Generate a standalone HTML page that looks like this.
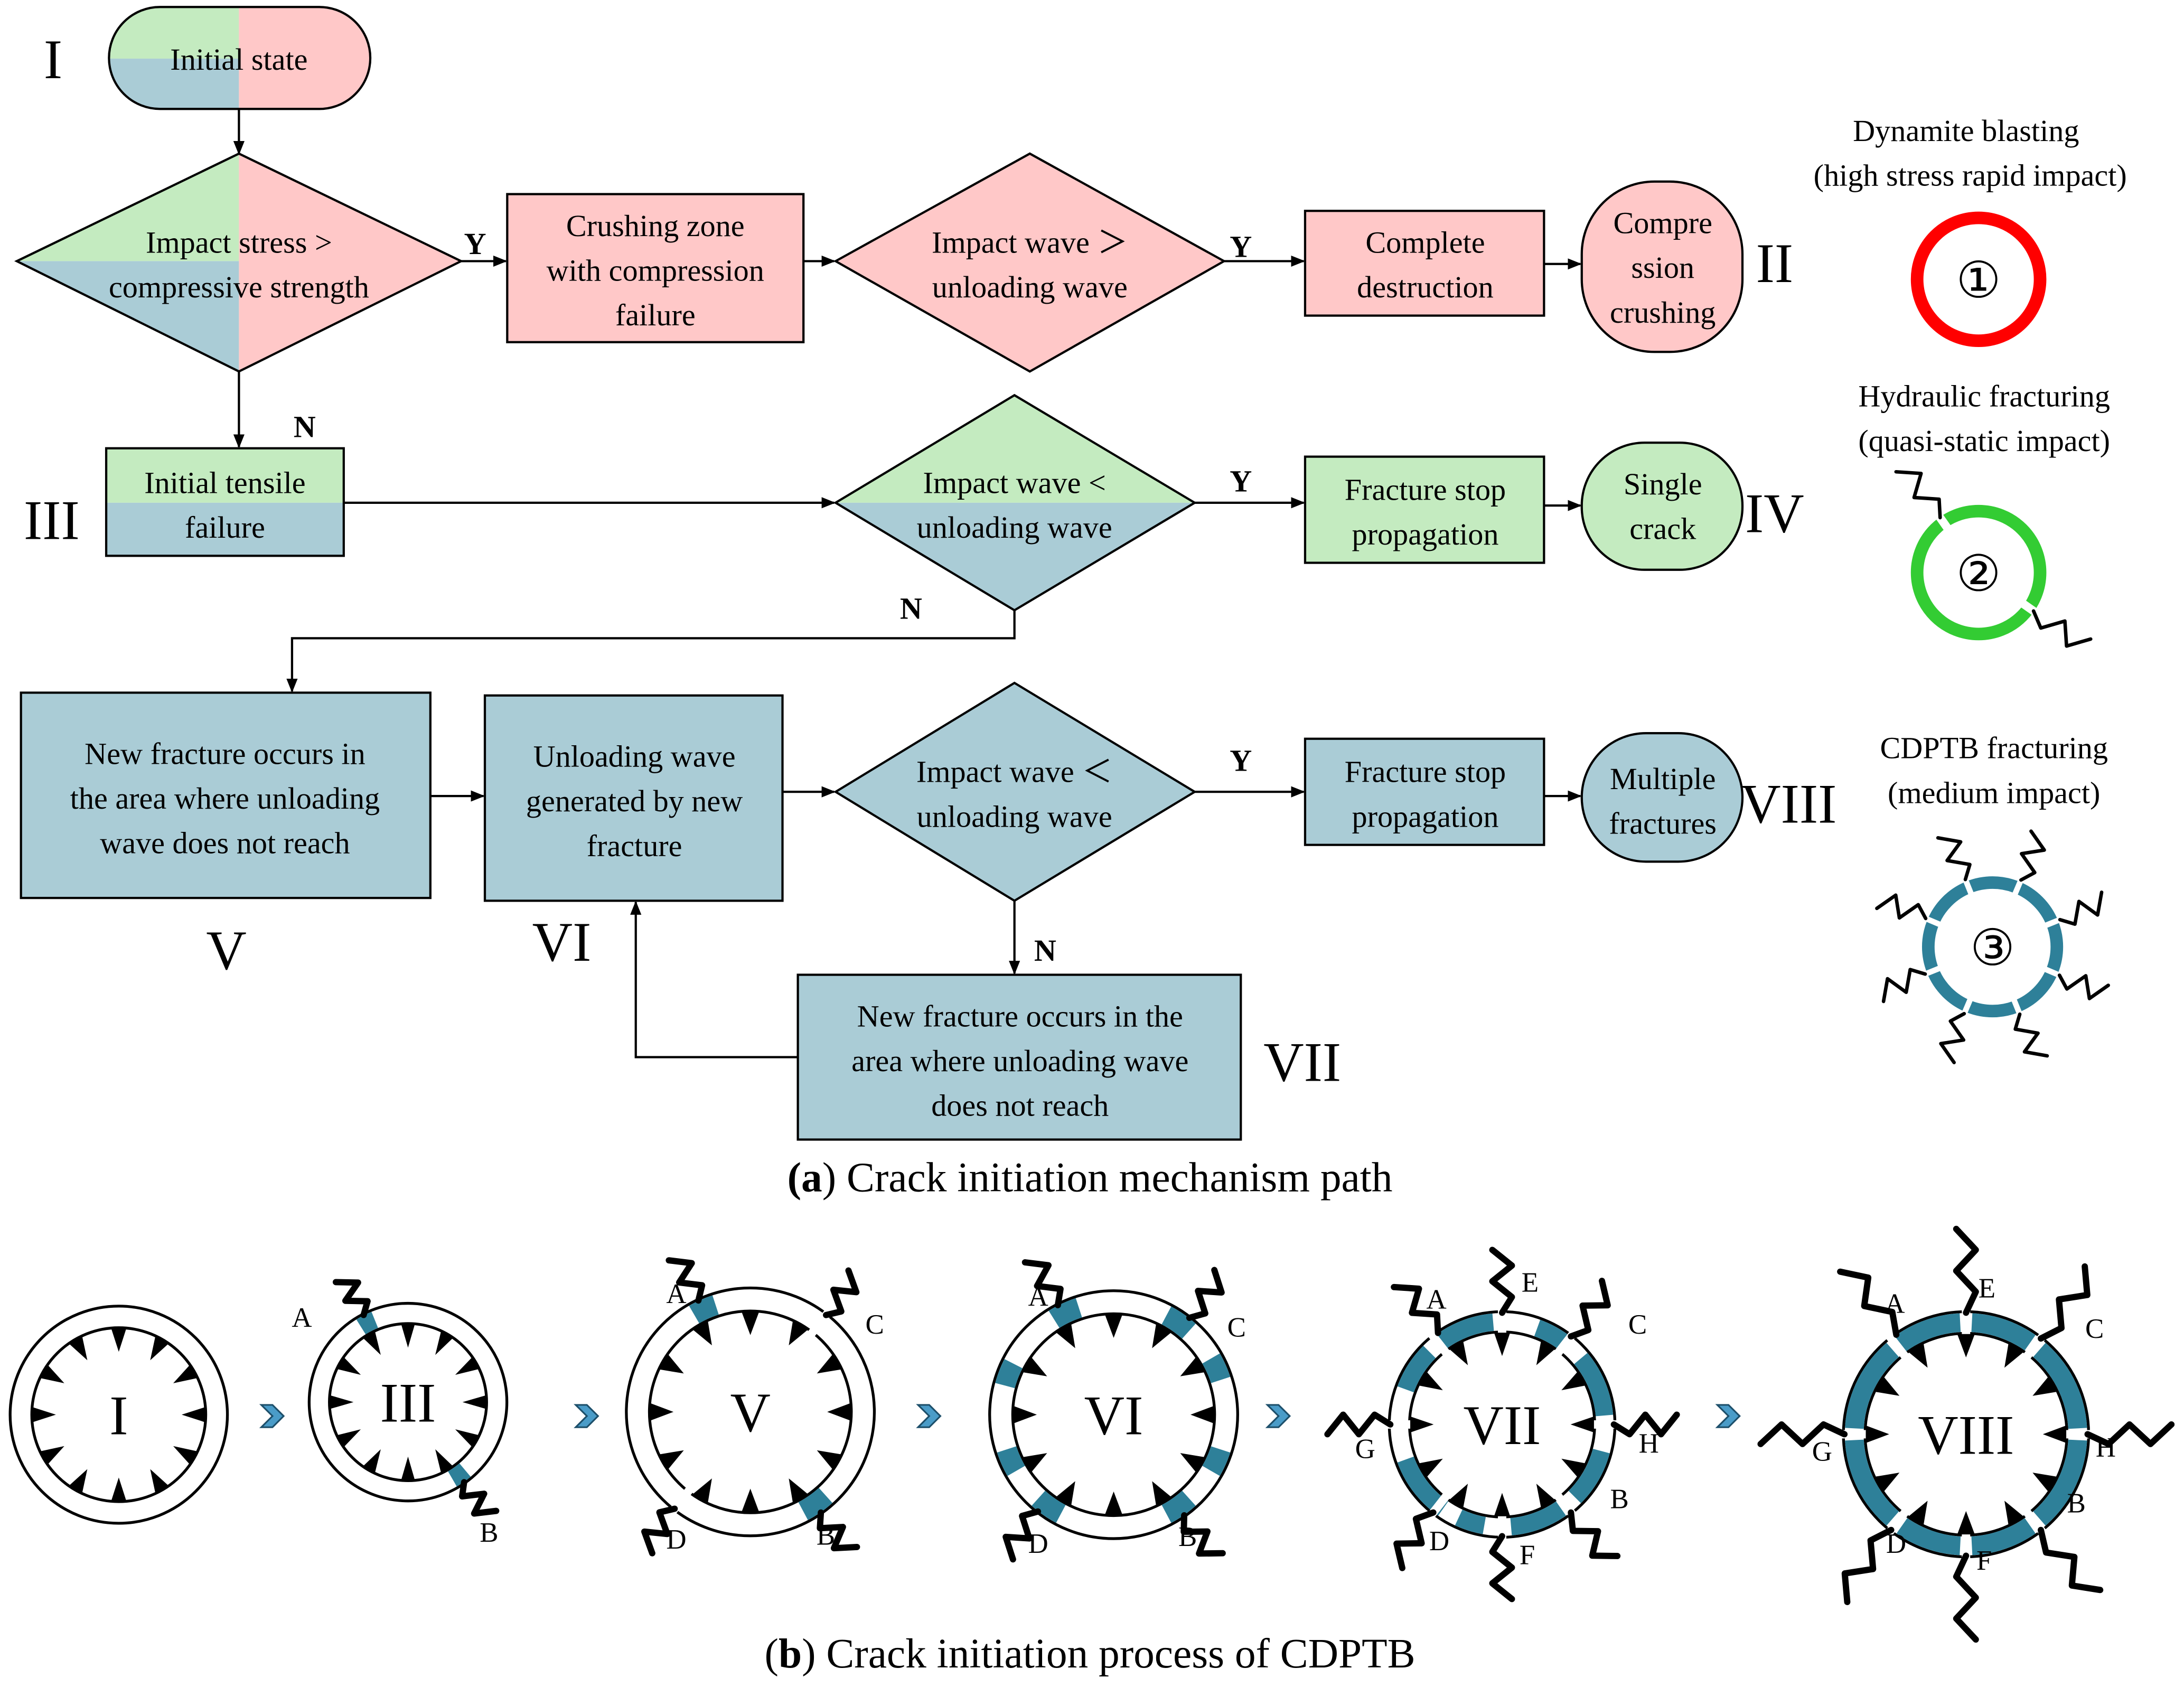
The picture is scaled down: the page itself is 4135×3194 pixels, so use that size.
<!DOCTYPE html>
<html><head><meta charset="utf-8"><style>
html,body{margin:0;padding:0;background:#fff;}
svg{display:block;}
text{font-family:"Liberation Serif",serif;fill:#000;}
</style></head><body>
<svg id="s" width="4135" height="3194" viewBox="0 0 1563 1208" preserveAspectRatio="none" xmlns="http://www.w3.org/2000/svg">
<defs>
<marker id="ar" markerWidth="10" markerHeight="10" refX="9" refY="5" orient="auto" markerUnits="userSpaceOnUse">
<path d="M0,1 L10,5 L0,9 Z" fill="#000"/></marker>
</defs>
<g stroke="#000" stroke-width="1.6" fill="none">
<clipPath id="c1"><rect x="78" y="5" width="187" height="73" rx="36.5"/></clipPath>
<g clip-path="url(#c1)" stroke="none">
<rect x="78" y="5" width="93" height="37" fill="#C4EBC0"/>
<rect x="78" y="42" width="93" height="36" fill="#AACCD6"/>
<rect x="171" y="5" width="94" height="73" fill="#FFC8C8"/>
</g>
<rect x="78" y="5" width="187" height="73" rx="36.5"/>
<line x1="171" y1="78" x2="171" y2="110" marker-end="url(#ar)"/>
<polygon points="12,187 171,110 171,187" fill="#C4EBC0" stroke="none"/>
<polygon points="12,187 171,266 171,187" fill="#AACCD6" stroke="none"/>
<polygon points="171,110 330,187 171,266" fill="#FFC8C8" stroke="none"/>
<polygon points="12,187 171,110 330,187 171,266"/>
<line x1="330" y1="187" x2="362" y2="187" marker-end="url(#ar)"/>
<rect x="363" y="139" width="212" height="106" fill="#FFC8C8"/>
<line x1="575" y1="187" x2="597" y2="187" marker-end="url(#ar)"/>
<polygon points="598,187 737,110 876,187 737,266" fill="#FFC8C8"/>
<line x1="876" y1="187" x2="933" y2="187" marker-end="url(#ar)"/>
<rect x="934" y="151" width="171" height="75" fill="#FFC8C8"/>
<line x1="1105" y1="189" x2="1131" y2="189" marker-end="url(#ar)"/>
<rect x="1132" y="130" width="115" height="122" rx="52" fill="#FFC8C8"/>
<line x1="171" y1="266" x2="171" y2="320" marker-end="url(#ar)"/>
<rect x="76" y="321" width="170" height="39" fill="#C4EBC0" stroke="none"/>
<rect x="76" y="360" width="170" height="38" fill="#AACCD6" stroke="none"/>
<rect x="76" y="321" width="170" height="77"/>
<line x1="246" y1="360" x2="597" y2="360" marker-end="url(#ar)"/>
<polygon points="598,360 726,283 855,360" fill="#C4EBC0" stroke="none"/>
<polygon points="598,360 726,437 855,360" fill="#AACCD6" stroke="none"/>
<polygon points="598,360 726,283 855,360 726,437"/>
<line x1="855" y1="360" x2="933" y2="360" marker-end="url(#ar)"/>
<rect x="934" y="327" width="171" height="76" fill="#C4EBC0"/>
<line x1="1105" y1="362" x2="1131" y2="362" marker-end="url(#ar)"/>
<rect x="1132" y="317" width="115" height="91" rx="45" fill="#C4EBC0"/>
<polyline points="726,437 726,457 209,457 209,495" marker-end="url(#ar)"/>
<rect x="15" y="496" width="293" height="147" fill="#AACCD6"/>
<line x1="308" y1="570" x2="346" y2="570" marker-end="url(#ar)"/>
<rect x="347" y="498" width="213" height="147" fill="#AACCD6"/>
<line x1="560" y1="567" x2="597" y2="567" marker-end="url(#ar)"/>
<polygon points="598,567 726,489 855,567 726,645" fill="#AACCD6"/>
<line x1="855" y1="567" x2="933" y2="567" marker-end="url(#ar)"/>
<rect x="934" y="529" width="171" height="76" fill="#AACCD6"/>
<line x1="1105" y1="570" x2="1131" y2="570" marker-end="url(#ar)"/>
<rect x="1132" y="525" width="115" height="92" rx="46" fill="#AACCD6"/>
<line x1="726" y1="645" x2="726" y2="697" marker-end="url(#ar)"/>
<rect x="571" y="698" width="317" height="118" fill="#AACCD6"/>
<polyline points="571,757 455,757 455,646" marker-end="url(#ar)"/>
</g>
<g font-size="22" text-anchor="middle">
<text x="171" y="50">Initial state</text>
<text x="171" y="181">Impact stress &gt;</text>
<text x="171" y="213">compressive strength</text>
<text x="469" y="169">Crushing zone</text>
<text x="469" y="201">with compression</text>
<text x="469" y="233">failure</text>
<text x="737" y="181">Impact wave  ＞</text>
<text x="737" y="213">unloading wave</text>
<text x="1020" y="181">Complete</text>
<text x="1020" y="213">destruction</text>
<text x="1190" y="167">Compre</text>
<text x="1190" y="199">ssion</text>
<text x="1190" y="231">crushing</text>
<text x="161" y="353">Initial tensile</text>
<text x="161" y="385">failure</text>
<text x="726" y="353">Impact wave &lt;</text>
<text x="726" y="385">unloading wave</text>
<text x="1020" y="358">Fracture stop</text>
<text x="1020" y="390">propagation</text>
<text x="1190" y="354">Single</text>
<text x="1190" y="386">crack</text>
<text x="161" y="547">New fracture occurs in</text>
<text x="161" y="579">the area where unloading</text>
<text x="161" y="611">wave does not reach</text>
<text x="454" y="549">Unloading wave</text>
<text x="454" y="581">generated by new</text>
<text x="454" y="613">fracture</text>
<text x="726" y="560">Impact wave  ＜</text>
<text x="726" y="592">unloading wave</text>
<text x="1020" y="560">Fracture stop</text>
<text x="1020" y="592">propagation</text>
<text x="1190" y="565">Multiple</text>
<text x="1190" y="597">fractures</text>
<text x="730" y="735">New fracture occurs in the</text>
<text x="730" y="767">area where unloading wave</text>
<text x="730" y="799">does not reach</text>
<text x="1407" y="101">Dynamite blasting</text>
<text x="1410" y="133">(high stress rapid impact)</text>
<text x="1420" y="291">Hydraulic fracturing</text>
<text x="1420" y="323">(quasi-static impact)</text>
<text x="1427" y="543">CDPTB fracturing</text>
<text x="1427" y="575">(medium impact)</text>
</g>
<g font-size="22" font-weight="bold" text-anchor="middle">
<text x="340" y="182">Y</text><text x="888" y="184">Y</text>
<text x="218" y="313">N</text><text x="888" y="352">Y</text>
<text x="652" y="443">N</text><text x="888" y="552">Y</text>
<text x="748" y="688">N</text>
</g>
<g font-size="40" text-anchor="middle">
<text x="38" y="56">I</text><text x="1270" y="202">II</text>
<text x="37" y="386">III</text><text x="1270" y="381">IV</text>
<text x="162" y="694">V</text><text x="402" y="688">VI</text>
<text x="932" y="774">VII</text><text x="1280" y="589">VIII</text>
</g>
<g font-size="30" text-anchor="middle">
<text x="780" y="853"><tspan font-weight="bold">(a</tspan>) Crack initiation mechanism path</text>
<text x="780" y="1194">(<tspan font-weight="bold">b</tspan>) Crack initiation process of CDPTB</text>
</g>
<circle cx="1416" cy="200" r="44" fill="none" stroke="#F00" stroke-width="9"/>
<text x="1416" y="213" font-size="36" text-anchor="middle">①</text>
<text x="1416" y="423" font-size="36" text-anchor="middle">②</text>
<text x="1426" y="691" font-size="36" text-anchor="middle">③</text>
<g id="geo"></g>
<g font-size="20" text-anchor="middle">
<text x="216" y="950">A</text><text x="350" y="1104">B</text>
<text x="484" y="933">A</text><text x="626" y="955">C</text><text x="484" y="1109">D</text><text x="591" y="1106">B</text>
<text x="743" y="935">A</text><text x="885" y="957">C</text><text x="743" y="1112">D</text><text x="850" y="1107">B</text>
<text x="1028" y="937">A</text><text x="1095" y="925">E</text><text x="1172" y="955">C</text><text x="977" y="1044">G</text><text x="1180" y="1040">H</text><text x="1159" y="1080">B</text><text x="1030" y="1110">D</text><text x="1093" y="1120">F</text>
<text x="1356" y="940">A</text><text x="1422" y="929">E</text><text x="1499" y="958">C</text><text x="1304" y="1046">G</text><text x="1507" y="1043">H</text><text x="1486" y="1083">B</text><text x="1357" y="1112">D</text><text x="1420" y="1124">F</text>
</g>
<g font-size="40" text-anchor="middle">
<text x="85" y="1027">I</text><text x="292" y="1018">III</text><text x="537" y="1025">V</text>
<text x="797" y="1027">VI</text><text x="1075" y="1034">VII</text><text x="1407" y="1041">VIII</text>
</g>
</svg>
<script>
var g=document.getElementById('geo'),NS='http://www.w3.org/2000/svg',T='#2E8099';
function el(t,a){var e=document.createElementNS(NS,t);for(var k in a)e.setAttribute(k,a[k]);g.appendChild(e);return e;}
function P(cx,cy,r,a){a=a*Math.PI/180;return [cx+r*Math.cos(a),cy+r*Math.sin(a)];}
function arc(cx,cy,r,a1,a2,col,w){var p=P(cx,cy,r,a1),q=P(cx,cy,r,a2);el('path',{d:'M'+p+' A'+r+','+r+' 0 '+((a2-a1)>180?1:0)+' 1 '+q,fill:'none',stroke:col,'stroke-width':w});}
function crack(cx,cy,r0,a,L,w){var pts=[],n=4;for(var i=0;i<=n;i++){var t=r0+L*i/n,off=(i%2?1:-1)*(i?7:0);var p=P(cx,cy,t,a),pa=(a+90)*Math.PI/180;pts.push((p[0]+off*Math.cos(pa))+','+(p[1]+off*Math.sin(pa)));}
el('polyline',{points:pts.join(' '),fill:'none',stroke:'#000','stroke-width':w||4.5,'stroke-linejoin':'round','stroke-linecap':'round'});}
function ring(cx,cy,R,r,o){var m=(R+r)/2,w=R-r;
el('circle',{cx:cx,cy:cy,r:m,fill:'none',stroke:'#000','stroke-width':w+3.5});
el('circle',{cx:cx,cy:cy,r:m,fill:'none',stroke:'#fff','stroke-width':w-0.5});
(o.teal||[]).forEach(function(t){arc(cx,cy,m,t[0],t[1],T,w-0.5);});
(o.gap||[]).forEach(function(a){var p=P(cx,cy,r-3,a),q=P(cx,cy,R+3,a);el('line',{x1:p[0],y1:p[1],x2:q[0],y2:q[1],stroke:'#fff','stroke-width':6});});
var n=o.n||12;for(var i=0;i<n;i++){var a=-90+360*i/n+(o.off||0);var tip=P(cx,cy,r-18,a),b1=P(cx,cy,r-1,a-5),b2=P(cx,cy,r-1,a+5);el('polygon',{points:tip+' '+b1+' '+b2,fill:'#000'});}
(o.cr||[]).forEach(function(a){crack(cx,cy,R,a,o.L||40);});}
ring(85,1013,77,63,{});
ring(292,1004,70,57,{teal:[[-122,-112],[50,60]],cr:[-117,55],L:30});
ring(537,1011,88,73,{teal:[[-120,-108],[48,62]],gap:[-52,128],cr:[-115,-52,55,128],L:35});
ring(797,1013,88,73,{teal:[[-122,-108],[-62,-48],[-30,-18],[18,30],[48,62],[118,132],[150,162],[195,207]],cr:[-117,-52,55,128],L:38});
ring(1075,1020,80,67,{teal:[[-128,-95],[-70,-50],[-40,-5],[15,45],[55,85],[100,115],[125,160],[200,225]],gap:[-90,90,0,180,-128,-52,52,128],cr:[-125,-90,-52,0,52,90,128,180],L:45});
ring(1407,1027,87,73,{teal:[[-127,-93],[-87,-55],[-49,-3],[3,49],[55,87],[93,125],[131,177],[183,229]],gap:[-90,90,0,180,-128,-52,52,128],cr:[-125,-90,-52,0,52,90,128,180],L:60});
[195,420,665,915,1237].forEach(function(x){el('polygon',{points:(x-8)+',1006 '+(x)+',1006 '+(x+8)+',1014 '+(x)+',1022 '+(x-8)+',1022 '+(x)+',1014',fill:'#4A9CC8',stroke:'#1d4f6a','stroke-width':1.2});});
el('circle',{cx:1416,cy:410,r:44,fill:'none',stroke:'#33CC33','stroke-width':9});
[-125,35].forEach(function(a){var p=P(1416,410,36,a),q=P(1416,410,52,a);el('line',{x1:p[0],y1:p[1],x2:q[0],y2:q[1],stroke:'#fff','stroke-width':6});});
crack(1416,410,48,-125,45,2.5);crack(1416,410,48,35,45,2.5);
el('circle',{cx:1426,cy:678,r:46,fill:'none',stroke:T,'stroke-width':9});
for(var i=0;i<8;i++){var a=-112+45*i;var p=P(1426,678,38,a),q=P(1426,678,54,a);el('line',{x1:p[0],y1:p[1],x2:q[0],y2:q[1],stroke:'#fff','stroke-width':4});crack(1426,678,52,a,35,2.5);}
</script>
</body></html>
